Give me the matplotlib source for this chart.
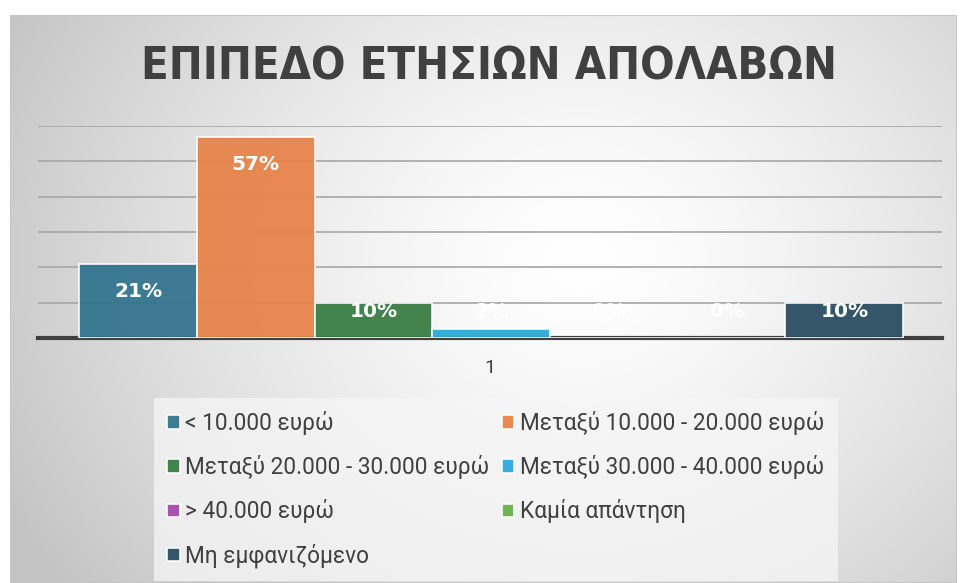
import numpy as np
import matplotlib
matplotlib.use("Agg")
import matplotlib.pyplot as plt
from matplotlib.patches import Rectangle

title = "ΕΠΙΠΕΔΟ ΕΤΗΣΙΩΝ ΑΠΟΛΑΒΩΝ"
category = "1"
series_names = ["< 10.000 ευρώ", "Μεταξύ 10.000 - 20.000 ευρώ",
                "Μεταξύ 20.000 - 30.000 ευρώ", "Μεταξύ 30.000 - 40.000 ευρώ",
                "> 40.000 ευρώ", "Καμία απάντηση", "Μη εμφανιζόμενο"]
values = [0.21, 0.57, 0.10, 0.025, 0.0, 0.0, 0.10]
colors = ["#34758F", "#E8834A", "#3A7D44", "#2EA8DB", "#A44BA8", "#6AB04C", "#2B4E61"]

W, H = 962, 583
fig = plt.figure(figsize=(W / 100, H / 100), dpi=100)
fig.patch.set_facecolor("white")

# background gradient chart area
bx0, by0, bx1, by1 = 10, 15, 957, 583
bg = fig.add_axes([bx0 / W, 1 - by1 / H, (bx1 - bx0) / W, (by1 - by0) / H])
yy, xx = np.mgrid[by0:by1, bx0:bx1]
cx, cy = 580, 260
r = np.sqrt(((xx - cx) / 1.0) ** 2 + ((yy - cy) / 0.85) ** 2)
t = np.clip(r / 640, 0, 1)
val = 1.0 - 0.23 * t ** 1.4
img = np.dstack([val, val, val])
bg.imshow(img, aspect="auto", extent=(0, 1, 0, 1), interpolation="bilinear")
bg.set_xlim(0, 1); bg.set_ylim(0, 1)
bg.axis("off")
bg.add_patch(Rectangle((0, 0), 1, 1, transform=bg.transAxes, fill=False,
                       edgecolor="#c4c4c4", lw=1.2))

# plot area
px0, px1, py_base, py_top = 38, 942, 338, 126
ax = fig.add_axes([px0 / W, 1 - py_base / H, (px1 - px0) / W, (py_base - py_top) / H])
ax.set_facecolor("none")
n = len(values)
xs = np.arange(n) - (n - 1) / 2
ax.set_xlim(-3.85, 3.83)
ax.set_ylim(0, 0.6)
ax.set_yticks(np.arange(0, 0.61, 0.1))
ax.yaxis.grid(True, color="#a6a6a6", lw=1.2)
ax.set_axisbelow(True)
for s in ["top", "right", "left"]:
    ax.spines[s].set_visible(False)
ax.spines["bottom"].set_color("#404040")
ax.spines["bottom"].set_linewidth(3)
ax.tick_params(left=False, labelleft=False, bottom=False, labelbottom=False)

bars = []
for x, v, c, name in zip(xs, values, colors, series_names):
    b = ax.bar(x, v, width=1.0, color=c, edgecolor=(1, 1, 1, 0.5), lw=1.2,
               alpha=0.95, label=name, zorder=3)
    bars.append(b)
    ly = max(v - 0.079, 0.075)
    ax.text(x, ly, f"{v*100:.0f}%", ha="center", va="center", color="white",
            fontsize=14.5, fontweight="bold", zorder=4)

fig.text(490 / W, 1 - 368 / H, category, ha="center", va="center",
         fontsize=14, color="#404040", family=["Roboto", "DejaVu Sans"])

fig.text(489 / W, 1 - 67 / H, title, ha="center", va="center", fontsize=32.5,
         fontweight="bold", color="#404040", family=["DejaVu Sans"],
         fontstretch="condensed")

# legend
order = [0, 2, 4, 6, 1, 3, 5]
handles = [bars[i] for i in order]
labels = [series_names[i] for i in order]
leg = fig.legend(handles, labels, ncol=2, loc="upper left",
                 bbox_to_anchor=(154 / W, 1 - 398 / H),
                 frameon=True, handlelength=0.55,
                 handleheight=0.55, handletextpad=0.25, columnspacing=0.55,
                 labelspacing=0.89, borderpad=0.58, labelcolor="#404040",
                 fancybox=False, borderaxespad=0,
                 prop={"family": ["Roboto", "DejaVu Sans"], "size": 16.3})
leg.get_frame().set_facecolor("#f6f6f6")
leg.get_frame().set_alpha(0.75)
leg.get_frame().set_edgecolor("none")

fig.savefig("out.png", dpi=100, facecolor="white")
